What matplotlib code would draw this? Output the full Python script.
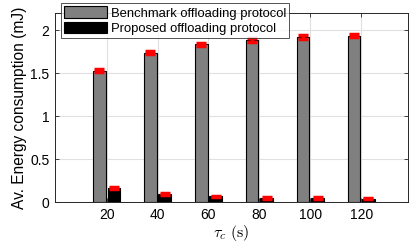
import matplotlib.pyplot as plt
import numpy as np

plt.rcParams['font.family'] = ['Liberation Sans', 'DejaVu Sans']
plt.rcParams['mathtext.fontset'] = 'cm'

tau_c = [20, 40, 60, 80, 100, 120]
benchmark = [1.53, 1.74, 1.835, 1.885, 1.92, 1.935]
proposed = [0.16, 0.09, 0.065, 0.05, 0.045, 0.04]
benchmark_err = [0.02, 0.02, 0.02, 0.02, 0.02, 0.02]
proposed_err = [0.01, 0.01, 0.01, 0.01, 0.01, 0.01]

fig = plt.figure(figsize=(4.11, 2.43), dpi=100)
ax = fig.add_axes([55 / 411, 41 / 243, 353 / 411, 189 / 243])

x = np.array(tau_c, dtype=float)
w = 5.0
off = 2.85
ax.bar(x - off, benchmark, width=w, color='#808080', edgecolor='black',
       linewidth=0.8, label='Benchmark offloading protocol', zorder=3)
ax.bar(x + off, proposed, width=w, color='black', edgecolor='black',
       linewidth=0.8, label='Proposed offloading protocol', zorder=3)
ax.errorbar(x - off, benchmark, yerr=benchmark_err, fmt='none', ecolor='red',
            elinewidth=2.5, capsize=3.5, capthick=2.5, zorder=4)
ax.errorbar(x + off, proposed, yerr=proposed_err, fmt='none', ecolor='red',
            elinewidth=2.5, capsize=3.5, capthick=2.5, zorder=4)

ax.set_xlim(-0.3, 138.4)
ax.set_ylim(0, 2.2)
ax.set_xticks(tau_c)
ax.set_yticks([0, 0.5, 1, 1.5, 2])
ax.set_yticklabels(['0', '0.5', '1', '1.5', '2'])
ax.grid(True, color='#e0e0e0', linewidth=0.8, zorder=0)
ax.set_axisbelow(True)
ax.tick_params(direction='in', length=3, top=True, right=True, labelsize=10,
               width=0.6, color='#262626', pad=4)
for s in ax.spines.values():
    s.set_linewidth(0.7)
    s.set_color('#262626')

ax.set_ylabel('Av. Energy consumption (mJ)', fontsize=11.2, labelpad=2)
ax.set_xlabel(r'$\tau_c\ (\mathrm{s})$', fontsize=11.5, labelpad=1)

leg = ax.legend(loc='upper left', bbox_to_anchor=(6 / 353, 1 + 9.5 / 189),
                fontsize=9.4, frameon=True, fancybox=False, edgecolor='#262626',
                handlelength=3.3, handleheight=1.0, handletextpad=0.3,
                borderpad=0.22, labelspacing=0.15, borderaxespad=0)
leg.get_frame().set_linewidth(0.7)
leg.set_zorder(5)

fig.savefig('out.png', dpi=100)
